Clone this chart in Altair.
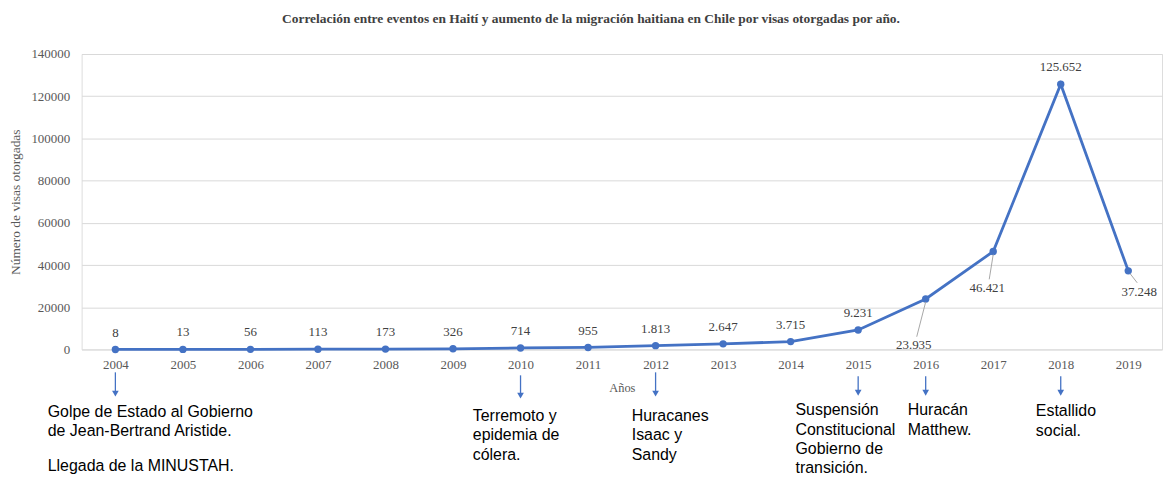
import altair as alt
import pandas as pd

# ---------------- data ----------------
years = list(range(2004, 2020))
visas = [8, 13, 56, 113, 173, 326, 714, 955, 1813, 2647, 3715, 9231,
         23935, 46421, 125652, 37248]
y_ticks = [0, 20000, 40000, 60000, 80000, 100000, 120000, 140000]

chart_title = ("Correlación entre eventos en Haití y aumento de la migración "
               "haitiana en Chile por visas otorgadas por año.")
y_title = "Número de visas otorgadas"
x_title = "Años"

event_years = [2004, 2010, 2012, 2015, 2016, 2018]
event_texts = [
    "Golpe de Estado al Gobierno\nde Jean-Bertrand Aristide.\n\nLlegada de la MINUSTAH.",
    "Terremoto y\nepidemia de\ncólera.",
    "Huracanes\nIsaac y\nSandy",
    "Suspensión\nConstitucional\nGobierno de\ntransición.",
    "Huracán\nMatthew.",
    "Estallido\nsocial.",
]

# ---------------- layout / style (not data) ----------------
BLUE = "#4472C4"
SERIF = "Liberation Serif"
SANS = "Liberation Sans"
TOP = 53  # absolute y of plot top in page
LH = 19.5
PARA_GAP = 0.8  # extra line-heights between paragraphs

# per-event: text dx, text baseline (abs y), arrow top (abs), arrow tip (abs)
event_layout = [
    (-68, 418, 373, 398),
    (-48, 422, 376, 400),
    (-24, 422, 373, 398),
    (-63, 416, 377, 397),
    (-18, 416, 377, 397),
    (-25, 417, 377, 397),
]
# labels placed below their point: year -> (label dx, label dy, leader x2 offset, leader y2 offset, leader x offset)
below_layout = {
    2016: (-12, 46, -9, 38, 0),
    2017: (-6, 37, -4, 28, 0),
    2019: (11, 21, 9, 12, 2),
}

df = pd.DataFrame({"year": years, "visas": visas})
df["label"] = [f"{v:,}".replace(",", ".") for v in visas]

x_enc = alt.X(
    "year:O",
    scale=alt.Scale(type="point", padding=0.5),
    axis=alt.Axis(
        title=x_title, labelAngle=0, ticks=False, tickSize=0, domain=False,
        labelFont=SERIF, labelFontSize=13, labelColor="#595959", labelPadding=9,
        titleFont=SERIF, titleFontSize=12.5, titleFontWeight="normal",
        titleColor="#595959", titlePadding=10,
    ),
)
y_enc = alt.Y(
    "visas:Q",
    scale=alt.Scale(domain=[0, 140000], nice=False),
    axis=alt.Axis(
        title=y_title, values=y_ticks, format="d", ticks=False, tickSize=0,
        domain=False, grid=True, gridColor="#d9d9d9", gridWidth=1,
        labelFont=SERIF, labelFontSize=13, labelColor="#595959", labelPadding=12,
        titleFont=SERIF, titleFontSize=13.5, titleFontWeight="normal",
        titleColor="#595959", titlePadding=8,
    ),
)

base = alt.Chart(df)
line = base.mark_line(color=BLUE, strokeWidth=2.8).encode(x=x_enc, y=y_enc)
pts = base.mark_circle(color=BLUE, size=55, opacity=1).encode(x="year:O", y="visas:Q")

above = base.transform_filter(
    ~alt.FieldOneOfPredicate(field="year", oneOf=list(below_layout.keys()))
).mark_text(dy=-17, font=SERIF, fontSize=13, color="#404040").encode(
    x="year:O", y="visas:Q", text="label:N"
)

layers = [line, pts, above]

for yr, (ldx, ldy, x2o, y2o, xo) in below_layout.items():
    sub = base.transform_filter(alt.datum.year == yr)
    layers.append(
        sub.mark_rule(color="#a6a6a6", strokeWidth=1, xOffset=xo, yOffset=3,
                      x2Offset=x2o, y2Offset=y2o).encode(
            x="year:O", x2="year:O", y="visas:Q", y2="visas:Q")
    )
    layers.append(
        sub.mark_text(dx=ldx, dy=ldy, font=SERIF, fontSize=13,
                      color="#404040").encode(x="year:O", y="visas:Q", text="label:N")
    )

for yr, txt, (tdx, tbase, atop, atip) in zip(event_years, event_texts, event_layout):
    ec = alt.Chart(pd.DataFrame({"year": [yr]}))
    layers.append(
        ec.mark_rule(color=BLUE, strokeWidth=1.3).encode(
            x="year:O", y=alt.value(atop - TOP), y2=alt.value(atip - TOP - 4))
    )
    layers.append(
        ec.mark_point(shape="triangle-down", filled=True, size=45, color=BLUE,
                      opacity=1).encode(x="year:O", y=alt.value(atip - TOP - 3.5))
    )
    # paragraphs separated by a blank line are drawn as separate text blocks
    line_idx = 0.0
    for para in txt.split("\n\n"):
        pdf = pd.DataFrame({"year": [yr], "text": [para]})
        layers.append(
            alt.Chart(pdf).mark_text(
                align="left", baseline="alphabetic", dx=tdx, font=SANS,
                fontSize=16, lineHeight=LH, lineBreak="\n", color="#000000",
            ).encode(x="year:O", y=alt.value(tbase - TOP + line_idx * LH), text="text:N")
        )
        line_idx += len(para.split("\n")) + PARA_GAP

chart = alt.layer(*layers).properties(
    width=1086,
    height=297,
    autosize=alt.AutoSizeParams(type="none"),
    padding={"left": 74, "top": 45, "right": 5, "bottom": 132},
    title=alt.Title(
        chart_title, font=SERIF, fontSize=13.5, fontWeight="bold", color="#404040",
        anchor="middle", frame="group", dx=-31, offset=23,
    ),
).configure_view(stroke=None).configure(background="white")

chart.save("out.html", embed_options={"renderer": "svg", "actions": False})
